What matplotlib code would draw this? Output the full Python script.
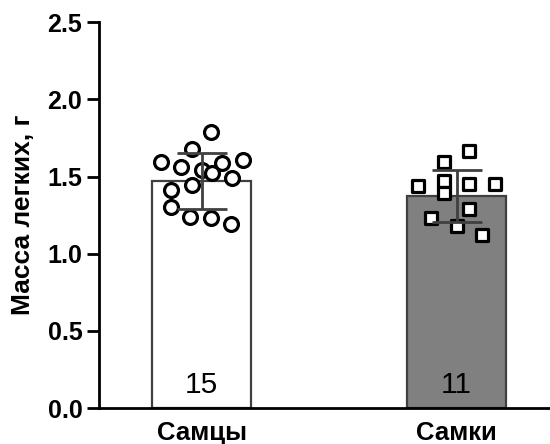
import numpy as np
import matplotlib
matplotlib.use("Agg")
import matplotlib.pyplot as plt

plt.rcParams["font.family"] = ["Liberation Sans", "DejaVu Sans"]

groups = ["Самцы", "Самки"]
counts = [15, 11]
means = [1.47, 1.375]
sds = [0.18, 0.17]

male_values = [1.79, 1.68, 1.595, 1.56, 1.545, 1.59, 1.61, 1.525, 1.49,
               1.445, 1.415, 1.30, 1.24, 1.23, 1.195]
male_jitter = [0.035, -0.04, -0.16, -0.08, 0.0, 0.08, 0.16, 0.04, 0.12,
               -0.04, -0.12, -0.12, -0.045, 0.035, 0.115]

female_values = [1.665, 1.595, 1.44, 1.47, 1.395, 1.45, 1.45, 1.29,
                 1.23, 1.18, 1.12]
female_jitter = [0.05, -0.05, -0.15, -0.05, -0.05, 0.05, 0.15, 0.05,
                 -0.1, 0.0, 0.1]

bar_colors = ["white", "#808080"]
edge = "#404040"

fig = plt.figure(figsize=(5.5, 4.44), dpi=100)
ax = fig.add_axes([0.18, 0.081, 0.82, 0.869])

x = np.arange(len(groups))
ax.bar(x, means, width=0.39, color=bar_colors, edgecolor=edge, linewidth=1.6, zorder=1)

ax.scatter(x[0] + np.array(male_jitter), male_values, s=100, marker="o",
           facecolor="white", edgecolor="black", linewidth=2.3, zorder=2)
ax.scatter(x[1] + np.array(female_jitter), female_values, s=85, marker="s",
           facecolor="white", edgecolor="black", linewidth=2.3, zorder=2)

ax.errorbar(x, means, yerr=sds, fmt="none", ecolor=edge, elinewidth=2,
            capsize=18, capthick=2, zorder=3)

for xi, n in zip(x, counts):
    ax.text(xi, 0.1, str(n), ha="center", va="baseline", fontsize=21.5,
            color="black", zorder=4)

ax.set_xlim(-0.403, 1.366)
ax.set_ylim(0, 2.5)
ax.set_yticks([0, 0.5, 1.0, 1.5, 2.0, 2.5])
ax.set_yticklabels([f"{v:.1f}" for v in [0, 0.5, 1.0, 1.5, 2.0, 2.5]],
                   fontsize=18, fontweight="bold")
ax.set_xticks(x)
ax.set_xticklabels(groups, fontsize=18.5, fontweight="bold")
ax.tick_params(axis="x", length=0, pad=9)
ax.tick_params(axis="y", length=9, width=2, direction="out", pad=3)
ax.set_ylabel("Масса легких, г", fontsize=19, fontweight="bold", labelpad=9)

for side in ["top", "right"]:
    ax.spines[side].set_visible(False)
for side in ["left", "bottom"]:
    ax.spines[side].set_linewidth(2)

plt.savefig("out.png", dpi=100)
plt.close()
